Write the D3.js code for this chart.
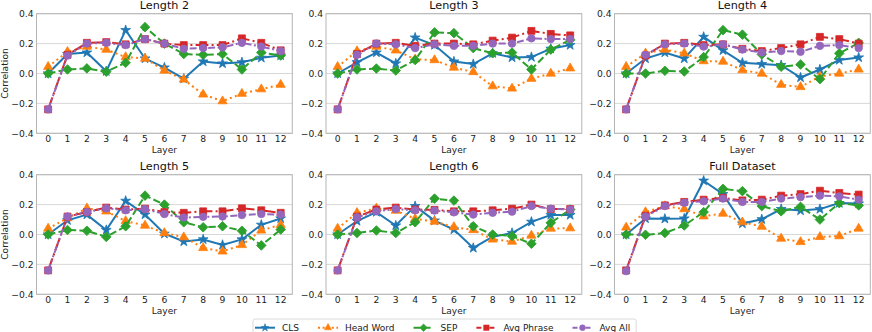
<!DOCTYPE html>
<meta charset="utf-8">
<style>
  body { margin: 0; background: #fff; }
  svg { display: block; font-family: "DejaVu Sans", sans-serif; }
</style>
<svg width="872" height="332"></svg>
<script src="https://d3js.org/d3.v7.min.js"></script>
<script>

// layers on the x axis
var layers = [0, 1, 2, 3, 4, 5, 6, 7, 8, 9, 10, 11, 12];
var yTicks = [-0.4, -0.2, 0.0, 0.2, 0.4];
var seriesNames = ["CLS", "Head Word", "SEP", "Avg Phrase", "Avg All"];
var panelTitles = ["Length 2", "Length 3", "Length 4", "Length 5", "Length 6", "Full Dataset"];

// Length 2
var clsL2    = [0.0, 0.13, 0.14, 0.015, 0.29, 0.10, 0.04, -0.035, 0.08, 0.067, 0.075, 0.105, 0.12];
var headL2   = [0.045, 0.145, 0.18, 0.16, 0.11, 0.10, 0.02, -0.04, -0.14, -0.185, -0.135, -0.105, -0.075];
var sepL2    = [0.0, 0.027, 0.034, 0.012, 0.072, 0.31, 0.20, 0.13, 0.125, 0.13, 0.027, 0.14, 0.12];
var phraseL2 = [-0.24, 0.125, 0.205, 0.21, 0.195, 0.23, 0.20, 0.19, 0.19, 0.19, 0.235, 0.205, 0.155];
var allL2    = [-0.24, 0.12, 0.20, 0.205, 0.19, 0.23, 0.20, 0.165, 0.17, 0.175, 0.205, 0.18, 0.15];

// Length 3
var clsL3    = [0.0, 0.075, 0.14, 0.067, 0.24, 0.19, 0.08, 0.063, 0.135, 0.107, 0.11, 0.165, 0.19];
var headL3   = [0.045, 0.15, 0.18, 0.155, 0.095, 0.09, 0.04, 0.01, -0.085, -0.10, -0.035, 0.0, 0.035];
var sepL3    = [0.0, 0.027, 0.033, 0.02, 0.09, 0.275, 0.27, 0.17, 0.135, 0.14, 0.027, 0.16, 0.225];
var phraseL3 = [-0.24, 0.13, 0.20, 0.205, 0.185, 0.20, 0.20, 0.195, 0.22, 0.24, 0.285, 0.265, 0.255];
var allL3    = [-0.24, 0.125, 0.20, 0.195, 0.17, 0.195, 0.185, 0.185, 0.20, 0.20, 0.235, 0.23, 0.23];

// Length 4
var clsL4    = [0.0, 0.10, 0.14, 0.10, 0.245, 0.155, 0.072, 0.063, 0.056, -0.027, 0.027, 0.09, 0.107];
var headL4   = [0.045, 0.135, 0.16, 0.135, 0.083, 0.08, 0.022, 0.0, -0.075, -0.09, -0.02, 0.0, 0.027];
var sepL4    = [0.0, 0.0, 0.018, 0.013, 0.11, 0.29, 0.26, 0.128, 0.045, 0.06, -0.038, 0.135, 0.205];
var phraseL4 = [-0.24, 0.12, 0.20, 0.205, 0.19, 0.195, 0.165, 0.15, 0.17, 0.195, 0.245, 0.23, 0.20];
var allL4    = [-0.24, 0.125, 0.195, 0.20, 0.18, 0.195, 0.16, 0.14, 0.15, 0.145, 0.185, 0.19, 0.17];

// Length 5
var clsL5    = [0.0, 0.095, 0.133, 0.03, 0.225, 0.133, 0.005, -0.047, -0.033, -0.07, -0.033, 0.065, 0.107];
var headL5   = [0.04, 0.11, 0.175, 0.155, 0.09, 0.06, 0.01, -0.018, -0.09, -0.113, -0.07, 0.027, 0.065];
var sepL5    = [0.0, 0.03, 0.025, -0.016, 0.055, 0.26, 0.20, 0.082, 0.048, 0.055, 0.025, -0.073, 0.033];
var phraseL5 = [-0.24, 0.12, 0.15, 0.18, 0.167, 0.173, 0.15, 0.145, 0.155, 0.155, 0.175, 0.162, 0.145];
var allL5    = [-0.24, 0.12, 0.15, 0.175, 0.162, 0.17, 0.137, 0.113, 0.118, 0.12, 0.13, 0.137, 0.133];

// Length 6
var clsL6    = [0.0, 0.09, 0.15, 0.06, 0.19, 0.093, 0.033, -0.09, -0.015, 0.01, 0.085, 0.13, 0.13];
var headL6   = [0.04, 0.145, 0.175, 0.16, 0.105, 0.087, 0.05, 0.03, -0.033, -0.047, -0.007, 0.04, 0.042];
var sepL6    = [0.0, 0.01, 0.027, 0.01, 0.082, 0.24, 0.227, 0.055, 0.0, -0.01, -0.062, 0.078, 0.167];
var phraseL6 = [-0.24, 0.12, 0.167, 0.18, 0.167, 0.165, 0.155, 0.155, 0.162, 0.173, 0.20, 0.17, 0.17];
var allL6    = [-0.24, 0.115, 0.155, 0.17, 0.162, 0.16, 0.148, 0.133, 0.145, 0.153, 0.19, 0.173, 0.167];

// Full Dataset
var clsFull    = [0.0, 0.107, 0.105, 0.107, 0.36, 0.27, 0.073, 0.102, 0.17, 0.16, 0.17, 0.21, 0.207];
var headFull   = [0.047, 0.15, 0.19, 0.17, 0.122, 0.14, 0.082, 0.053, -0.027, -0.05, -0.016, -0.011, 0.04];
var sepFull    = [0.0, -0.002, 0.01, 0.06, 0.15, 0.305, 0.29, 0.19, 0.155, 0.185, 0.10, 0.21, 0.195];
var phraseFull = [-0.24, 0.125, 0.195, 0.218, 0.233, 0.245, 0.228, 0.233, 0.26, 0.27, 0.293, 0.278, 0.267];
var allFull    = [-0.245, 0.12, 0.19, 0.213, 0.222, 0.24, 0.218, 0.218, 0.24, 0.25, 0.26, 0.255, 0.233];

var panels = [
  [clsL2, headL2, sepL2, phraseL2, allL2],
  [clsL3, headL3, sepL3, phraseL3, allL3],
  [clsL4, headL4, sepL4, phraseL4, allL4],
  [clsL5, headL5, sepL5, phraseL5, allL5],
  [clsL6, headL6, sepL6, phraseL6, allL6],
  [clsFull, headFull, sepFull, phraseFull, allFull]
];

var colors = ["#1f77b4", "#ff7f0e", "#2ca02c", "#d62728", "#9467bd"];
var dashes = [null, "2,3.3", "7.4,3.2", "12.8,3.2,2,3.2", "7,2.5,2,2.5,2,2.5"];

// marker shapes (d3 symbols, diamond = rotated square)
var markers = [
  { type: d3.symbolStar, size: 30, rot: 0 },
  { type: d3.symbolTriangle, size: 36, rot: 0 },
  { type: d3.symbolSquare, size: 46, rot: 45 },
  { type: d3.symbolSquare, size: 48, rot: 0 },
  { type: d3.symbolCircle, size: 44, rot: 0 }
];

var svg = d3.select("svg");

var colX = [36.5, 326, 614.5],
    rowY = [13.7, 174.7],
    pw = 255.8,
    ph = 119.6;

var fmt = d3.format(".1f");

panels.forEach(function(series, pi) {
  var c = pi % 3, r = Math.floor(pi / 3);
  var g = svg.append("g").attr("transform", "translate(" + colX[c] + "," + rowY[r] + ")");

  var x = d3.scaleLinear().domain([-0.6, 12.6]).range([0, pw]);
  var y = d3.scaleLinear().domain([-0.4, 0.4]).range([ph, 0]);

  // grid
  g.selectAll(".grid").data(yTicks).enter().append("line")
      .attr("x1", 0).attr("x2", pw)
      .attr("y1", y).attr("y2", y)
      .attr("stroke", "#d4d4d4")
      .attr("stroke-width", 0.9);

  // y tick labels
  g.selectAll(".ytl").data(yTicks).enter().append("text")
      .attr("x", -3)
      .attr("y", function(d) { return y(d); })
      .attr("dy", "0.35em")
      .attr("text-anchor", "end")
      .attr("font-size", 9.2)
      .attr("fill", "#222")
      .text(function(d) { return fmt(d); });

  // x tick labels
  g.selectAll(".xtl").data(layers).enter().append("text")
      .attr("x", x)
      .attr("y", ph + 9)
      .attr("text-anchor", "middle")
      .attr("font-size", 9.2)
      .attr("fill", "#222")
      .text(function(d) { return d; });

  // lines + markers
  series.forEach(function(vals, si) {
    var line = d3.line()
        .x(function(d, i) { return x(layers[i]); })
        .y(function(d) { return y(d); });

    g.append("path")
        .datum(vals)
        .attr("fill", "none")
        .attr("stroke", colors[si])
        .attr("stroke-width", 2)
        .attr("stroke-dasharray", dashes[si])
        .attr("d", line);

    var m = markers[si];
    g.append("g").selectAll("path")
      .data(vals)
      .enter().append("path")
        .attr("transform", function(d, i) {
          return "translate(" + x(layers[i]) + "," + y(d) + ")rotate(" + m.rot + ")";
        })
        .attr("d", d3.symbol().type(m.type).size(m.size))
        .attr("fill", colors[si])
        .attr("stroke", colors[si])
        .attr("stroke-width", 0.8);
  });

  // frame
  g.append("rect")
      .attr("width", pw).attr("height", ph)
      .attr("fill", "none")
      .attr("stroke", "#b5b5b5")
      .attr("stroke-width", 1);

  // title
  g.append("text")
      .attr("x", pw / 2)
      .attr("y", -4.5)
      .attr("text-anchor", "middle")
      .attr("font-size", 11.2)
      .attr("fill", "#111")
      .text(panelTitles[pi]);

  // x label
  g.append("text")
      .attr("x", pw / 2)
      .attr("y", ph + 20)
      .attr("text-anchor", "middle")
      .attr("font-size", 9)
      .attr("fill", "#222")
      .text("Layer");

  if (c === 0) {
    g.append("text")
      .attr("transform", "translate(" + (-28.5) + "," + (ph / 2) + ")rotate(-90)")
      .attr("text-anchor", "middle")
      .attr("font-size", 9.2)
      .attr("fill", "#222")
      .text("Correlation");
  }
});

// legend
var legend = svg.append("g").attr("transform", "translate(253,319)");
var box = legend.append("rect")
    .attr("height", 17)
    .attr("rx", 2)
    .attr("fill", "#fff")
    .attr("stroke", "#d0d0d0")
    .attr("stroke-width", 0.8);

var lx = 2, ly = 8.7;
seriesNames.forEach(function(name, si) {
  var item = legend.append("g").attr("transform", "translate(" + lx + "," + ly + ")");
  item.append("line")
      .attr("x1", 0).attr("x2", 20)
      .attr("stroke", colors[si])
      .attr("stroke-width", 2)
      .attr("stroke-dasharray", si === 0 ? null : (si === 1 ? "2,2.6" : (si === 2 ? "7,3" : "5,3,2,3")));
  var m = markers[si];
  item.append("path")
      .attr("transform", "translate(10,0)rotate(" + m.rot + ")")
      .attr("d", d3.symbol().type(m.type).size(m.size * 0.6))
      .attr("fill", colors[si])
      .attr("stroke", colors[si])
      .attr("stroke-width", 0.6);
  var t = item.append("text")
      .attr("x", 27)
      .attr("dy", "0.35em")
      .attr("font-size", 9)
      .attr("fill", "#222")
      .text(name);
  lx += 27 + t.node().getComputedTextLength() + 19;
});
box.attr("width", lx - 19 + 6);

</script>
